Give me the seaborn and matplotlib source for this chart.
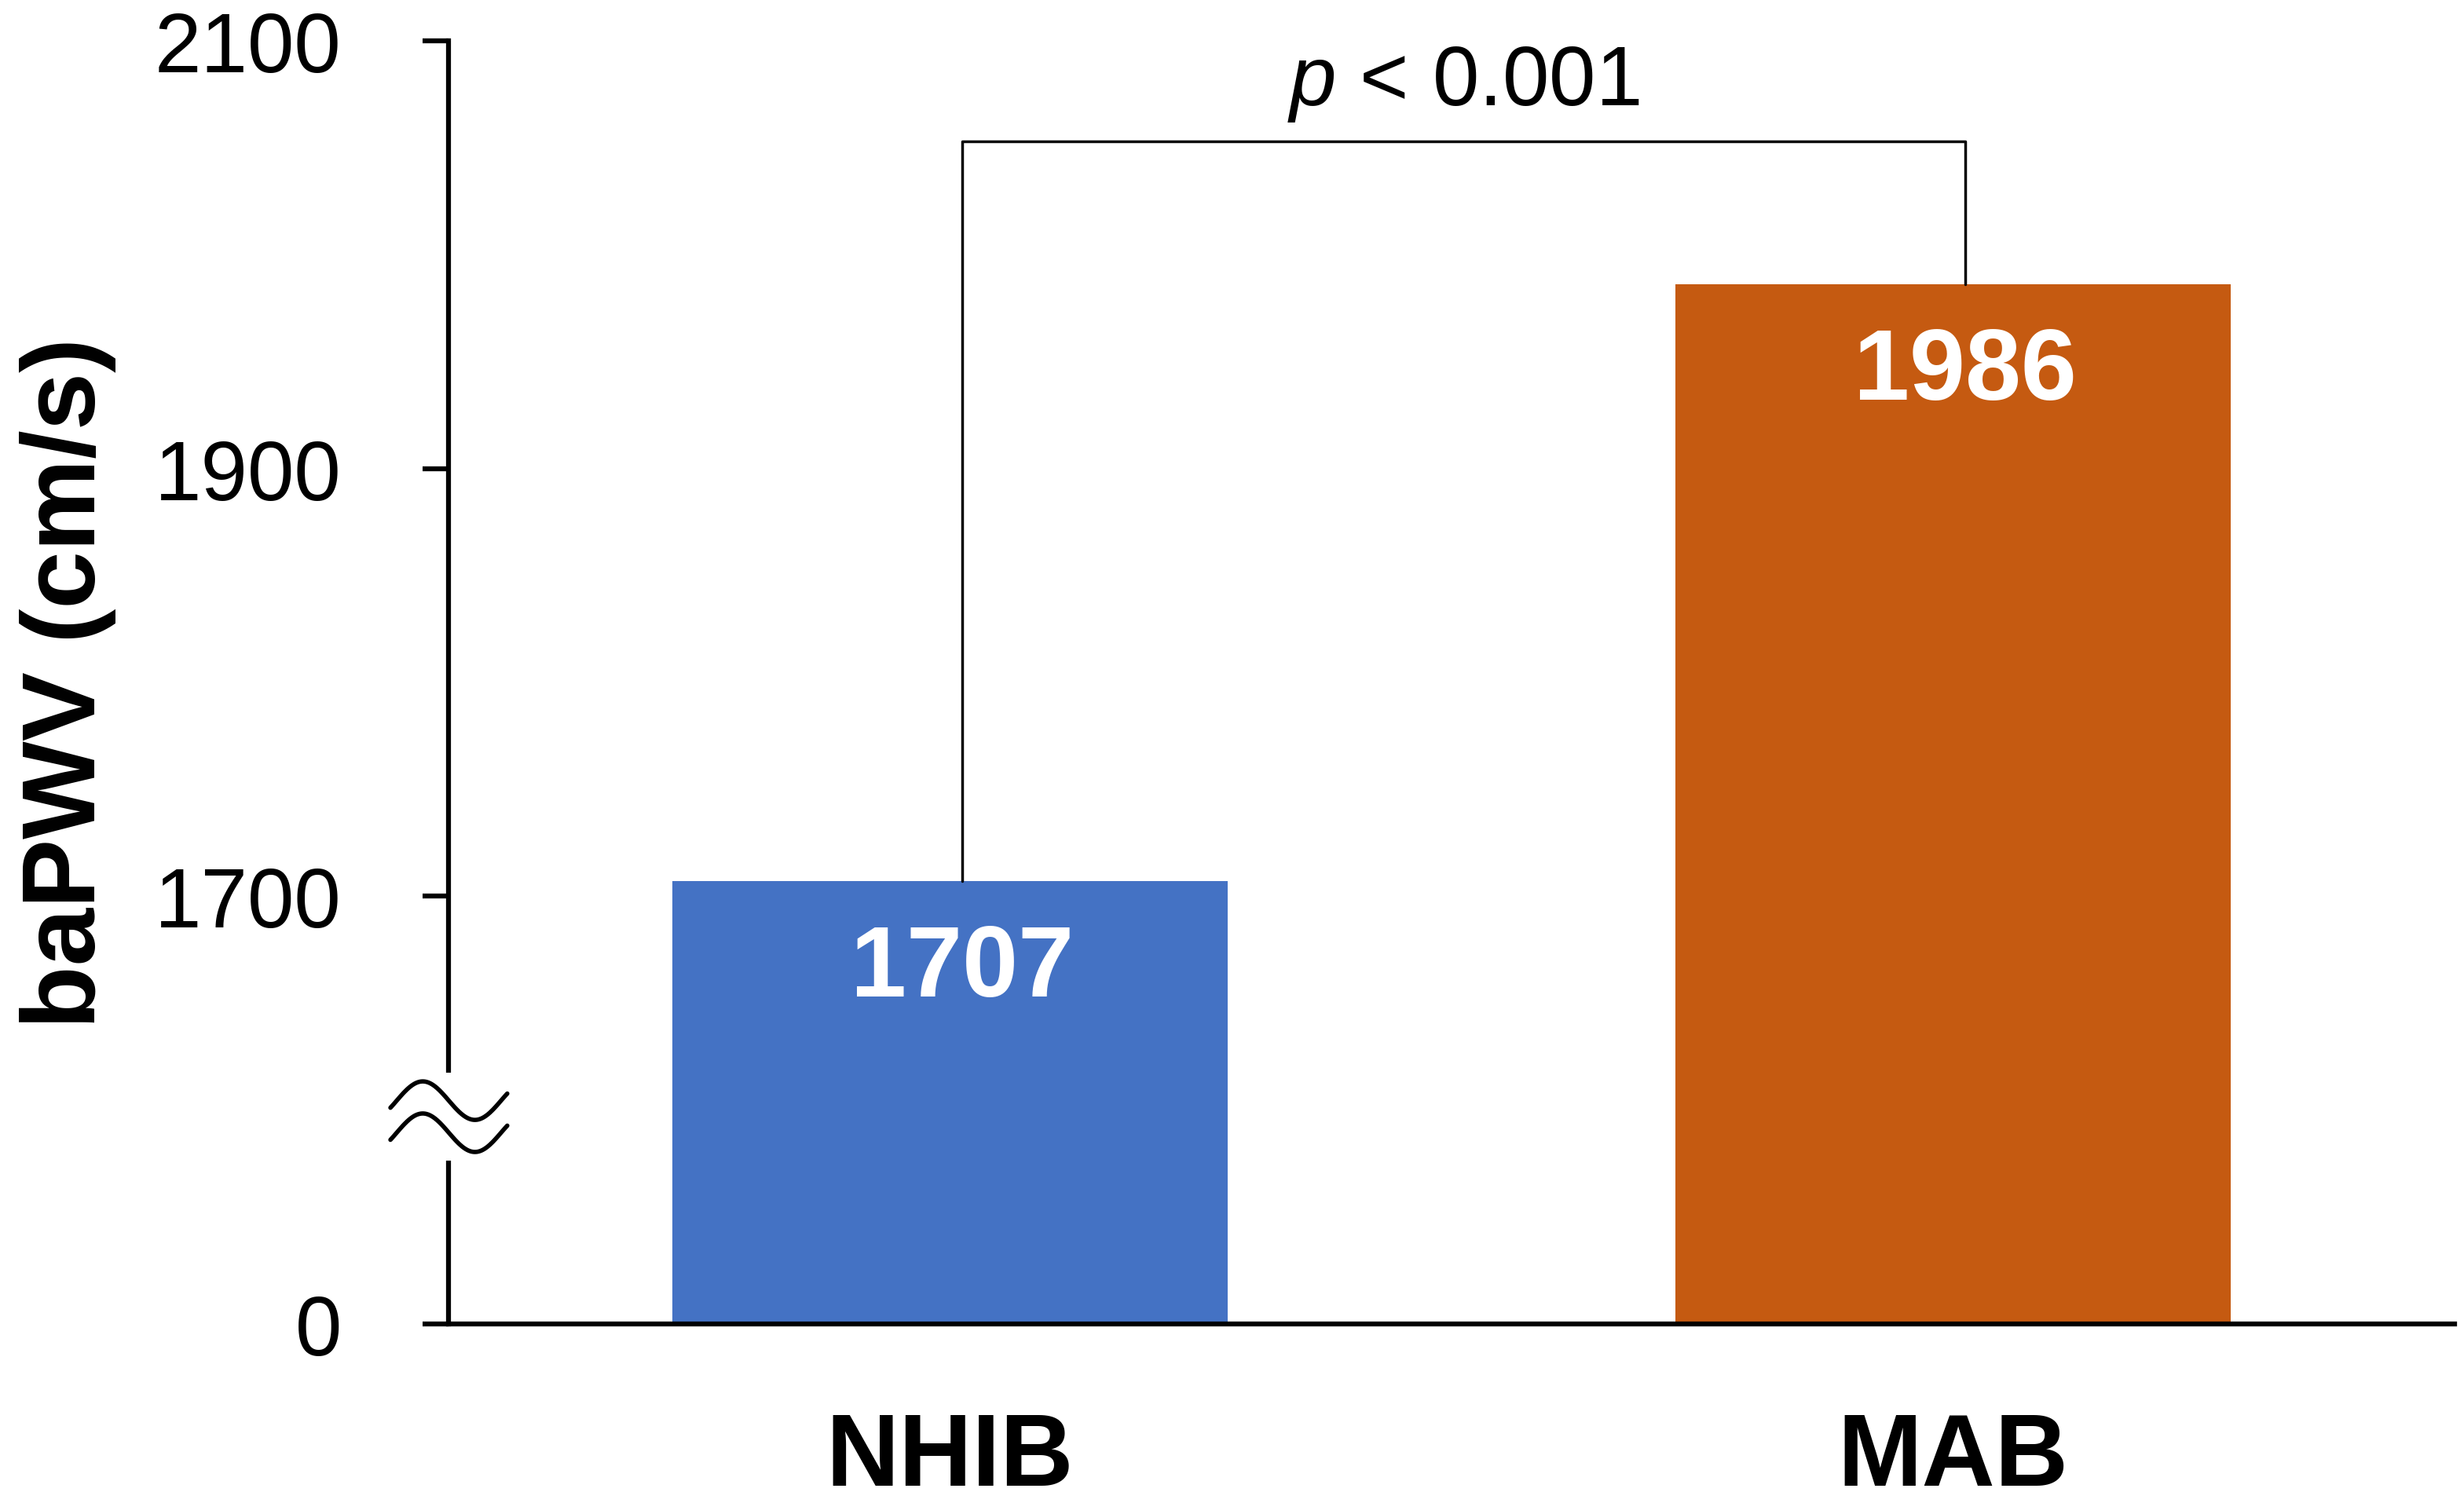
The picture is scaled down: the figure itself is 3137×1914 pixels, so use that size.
import numpy as np
import pandas as pd
import matplotlib
matplotlib.use("Agg")
import matplotlib.pyplot as plt
import seaborn as sns
from matplotlib.patches import Rectangle

# data
groups = ["NHIB", "MAB"]
pwv = [1707, 1986]
bar_colors = ["#4472C4", "#C55A11"]
yticks = [0, 1700, 1900, 2100]
p_text = r"$p$ < 0.001"

# broken axis: 0..1700 squeezed into the height of 200 units
BREAK = 1700
def fwd(v):
    v = np.asarray(v, dtype=float)
    return np.where(v >= BREAK, v - 1500, v * 200.0 / BREAK)

def inv(u):
    u = np.asarray(u, dtype=float)
    return np.where(u >= 200, u + 1500, u * BREAK / 200.0)

sns.set_theme(style="white")
plt.rcParams['font.family'] = ['Liberation Sans', 'DejaVu Sans']
plt.rcParams['mathtext.fontset'] = 'custom'
plt.rcParams['mathtext.rm'] = 'Liberation Sans'
plt.rcParams['mathtext.it'] = 'Liberation Sans:italic'
for k in ['text.color', 'axes.labelcolor', 'xtick.color', 'ytick.color']:
    plt.rcParams[k] = 'black'

df = pd.DataFrame({"group": groups, "pwv": pwv})

fig = plt.figure(figsize=(31.37, 19.15), dpi=100)
ax = fig.add_axes([0.182, 0.1191, 0.8142, 0.8532])

sns.barplot(data=df, x="group", y="pwv", hue="group", palette=bar_colors,
            width=0.553, saturation=1, legend=False, linewidth=0, ax=ax)

ax.set_yscale("function", functions=(fwd, inv))
ax.set_ylim(0, 2100)
ax.set_xlim(-0.5, 1.5)
ax.set_yticks(yticks)
ax.set_yticklabels([str(t) for t in yticks])

for s in ["top", "right"]:
    ax.spines[s].set_visible(False)
for s in ["left", "bottom"]:
    ax.spines[s].set_color("black")
    ax.spines[s].set_linewidth(4.5)

ax.tick_params(axis="y", direction="out", length=24, width=4.5, color="black",
               labelcolor="black", pad=74, labelsize=77, left=True)
ax.tick_params(axis="x", length=0, pad=80, labelsize=93, labelcolor="black")
for lab in ax.get_xticklabels():
    lab.set_fontweight("bold")

ax.set_xlabel("")
ax.set_ylabel("baPWV (cm/s)", fontsize=95, fontweight="bold", va="center",
              color="black")
ax.yaxis.set_label_coords(-0.1895, 0.5)

# value labels inside bars
for i, v in enumerate(pwv):
    ax.annotate(str(v), (i, v), xytext=(11, -81), textcoords="offset points",
                ha="center", va="center", color="white", fontsize=92,
                fontweight="bold")

# significance bracket
top = max(pwv) + 67
x0, x1 = 0.012, 1.012
ax.plot([x0, x0, x1, x1], [pwv[0], top, top, pwv[1]], color="black",
        lw=2.5, clip_on=False, zorder=4)
ax.annotate(p_text, ((x0 + x1) / 2, top), xytext=(0, 34),
            textcoords="offset points", ha="center", va="baseline",
            fontsize=77, color="black", annotation_clip=False)

# axis break mark on the y spine
ax.add_patch(Rectangle((-0.012, 0.127), 0.024, 0.069, transform=ax.transAxes,
                       facecolor="white", edgecolor="none", clip_on=False,
                       zorder=5))
t = np.linspace(-0.06, 1.06, 100)
wx = -0.0258 + t * 0.052
for yc in [0.174, 0.149]:
    ax.plot(wx, yc + 0.015 * np.sin(2 * np.pi * t), color="black", lw=4,
            transform=ax.transAxes, clip_on=False, zorder=6)

fig.savefig("out.png", dpi=100, facecolor="white")
